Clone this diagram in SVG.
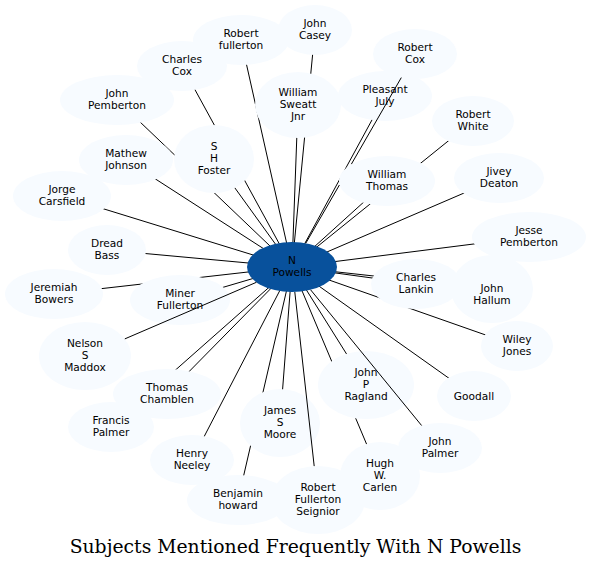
<svg xmlns="http://www.w3.org/2000/svg" width="592" height="569" viewBox="0 0 592 569">
<style>
.node ellipse{fill:#f7fbff;stroke:none}
#n_center ellipse{fill:#08519c}
text{font-family:"DejaVu Sans",Verdana,sans-serif;font-size:10.6px;text-anchor:middle;fill:#000}
.edges path{stroke:#000;stroke-width:1;fill:none}
.title{font-family:"DejaVu Serif",serif;font-size:18.8px}
</style>
<rect width="592" height="569" fill="#fff"/>
<g id="connectors" class="edges">
<path d="M292,267L315,30"/>
<path d="M292,267L241,40"/>
<path d="M292,267L182,66"/>
<path d="M292,267L117,100"/>
<path d="M292,267L298,105"/>
<path d="M292,267L385,96"/>
<path d="M292,267L473,121"/>
<path d="M292,267L214,159"/>
<path d="M292,267L126,160"/>
<path d="M292,267L62,196"/>
<path d="M292,267L387,181"/>
<path d="M292,267L499,178"/>
<path d="M292,267L529,237"/>
<path d="M292,267L107,250"/>
<path d="M292,267L54,294"/>
<path d="M292,267L180,300"/>
<path d="M292,267L416,284"/>
<path d="M292,267L492,289"/>
<path d="M292,267L517,346"/>
<path d="M292,267L167,394"/>
<path d="M292,267L111,427"/>
<path d="M292,267L280,423"/>
<path d="M292,267L366,385"/>
<path d="M292,267L474,396"/>
<path d="M292,267L192,460"/>
<path d="M292,267L380,476"/>
<path d="M292,267L238,500"/>
</g>
<g id="nodes">
<g id="n_casey" class="node"><ellipse cx="315" cy="30" rx="37" ry="25"/><text x="315" y="27">John</text><text x="315" y="39">Casey</text></g>
<g id="n_rfullerton" class="node"><ellipse cx="241" cy="40" rx="48" ry="25"/><text x="241" y="37">Robert</text><text x="241" y="49">fullerton</text></g>
<g id="n_ccox" class="node"><ellipse cx="182" cy="66" rx="45" ry="25"/><text x="182" y="63">Charles</text><text x="182" y="75">Cox</text></g>
<g id="n_jpemberton" class="node"><ellipse cx="117" cy="100" rx="57" ry="25"/><text x="117" y="97">John</text><text x="117" y="109">Pemberton</text></g>
<g id="n_sweatt" class="node"><ellipse cx="298" cy="105" rx="43" ry="33"/><text x="298" y="96">William</text><text x="298" y="108">Sweatt</text><text x="298" y="120">Jnr</text></g>
<g id="n_pjuly" class="node"><ellipse cx="385" cy="96" rx="47" ry="25"/><text x="385" y="93">Pleasant</text><text x="385" y="105">July</text></g>
<g id="n_rcox" class="node"><ellipse cx="415" cy="54" rx="42" ry="25"/><text x="415" y="51">Robert</text><text x="415" y="63">Cox</text></g>
<g id="n_rwhite" class="node"><ellipse cx="473" cy="121" rx="41" ry="25"/><text x="473" y="118">Robert</text><text x="473" y="130">White</text></g>
<g id="n_foster" class="node"><ellipse cx="214" cy="159" rx="40" ry="34"/><text x="214" y="150">S</text><text x="214" y="162">H</text><text x="214" y="174">Foster</text></g>
<g id="n_mathew" class="node"><ellipse cx="126" cy="160" rx="47" ry="25"/><text x="126" y="157">Mathew</text><text x="126" y="169">Johnson</text></g>
<g id="n_jorge" class="node"><ellipse cx="62" cy="196" rx="49" ry="25"/><text x="62" y="193">Jorge</text><text x="62" y="205">Carsfield</text></g>
<g id="n_wthomas" class="node"><ellipse cx="387" cy="181" rx="48" ry="25"/><text x="387" y="178">William</text><text x="387" y="190">Thomas</text></g>
<g id="n_jivey" class="node"><ellipse cx="499" cy="178" rx="45" ry="25"/><text x="499" y="175">Jivey</text><text x="499" y="187">Deaton</text></g>
<g id="n_jesse" class="node"><ellipse cx="529" cy="237" rx="57" ry="25"/><text x="529" y="234">Jesse</text><text x="529" y="246">Pemberton</text></g>
<g id="n_dread" class="node"><ellipse cx="107" cy="250" rx="39" ry="25"/><text x="107" y="247">Dread</text><text x="107" y="259">Bass</text></g>
<g id="n_jeremiah" class="node"><ellipse cx="54" cy="294" rx="49" ry="25"/><text x="54" y="291">Jeremiah</text><text x="54" y="303">Bowers</text></g>
<g id="n_miner" class="node"><ellipse cx="180" cy="300" rx="50" ry="25"/><text x="180" y="297">Miner</text><text x="180" y="309">Fullerton</text></g>
<g id="n_lankin" class="node"><ellipse cx="416" cy="284" rx="45" ry="25"/><text x="416" y="281">Charles</text><text x="416" y="293">Lankin</text></g>
<g id="n_hallum" class="node"><ellipse cx="492" cy="289" rx="41" ry="34"/><text x="492" y="292">John</text><text x="492" y="304">Hallum</text></g>
<g id="n_wiley" class="node"><ellipse cx="517" cy="346" rx="36" ry="25"/><text x="517" y="343">Wiley</text><text x="517" y="355">Jones</text></g>
<g id="n_nelson" class="node"><ellipse cx="85" cy="356" rx="46" ry="34"/><text x="85" y="347">Nelson</text><text x="85" y="359">S</text><text x="85" y="371">Maddox</text></g>
<g id="n_chamblen" class="node"><ellipse cx="167" cy="394" rx="54" ry="25"/><text x="167" y="391">Thomas</text><text x="167" y="403">Chamblen</text></g>
<g id="n_francis" class="node"><ellipse cx="111" cy="427" rx="43" ry="25"/><text x="111" y="424">Francis</text><text x="111" y="436">Palmer</text></g>
<g id="n_moore" class="node"><ellipse cx="280" cy="423" rx="40" ry="34"/><text x="280" y="414">James</text><text x="280" y="426">S</text><text x="280" y="438">Moore</text></g>
<g id="n_ragland" class="node"><ellipse cx="366" cy="385" rx="48" ry="34"/><text x="366" y="376">John</text><text x="366" y="388">P</text><text x="366" y="400">Ragland</text></g>
<g id="n_goodall" class="node"><ellipse cx="474" cy="396" rx="37" ry="25"/><text x="474" y="399.5">Goodall</text></g>
<g id="n_jpalmer" class="node"><ellipse cx="440" cy="448" rx="42" ry="25"/><text x="440" y="445">John</text><text x="440" y="457">Palmer</text></g>
<g id="n_henry" class="node"><ellipse cx="192" cy="460" rx="42" ry="25"/><text x="192" y="457">Henry</text><text x="192" y="469">Neeley</text></g>
<g id="n_hugh" class="node"><ellipse cx="380" cy="476" rx="40" ry="34"/><text x="380" y="467">Hugh</text><text x="380" y="479">W.</text><text x="380" y="491">Carlen</text></g>
<g id="n_benjamin" class="node"><ellipse cx="238" cy="500" rx="51" ry="25"/><text x="238" y="497">Benjamin</text><text x="238" y="509">howard</text></g>
<g id="n_rfs" class="node"><ellipse cx="318" cy="500" rx="47" ry="34"/><text x="318" y="491">Robert</text><text x="318" y="503">Fullerton</text><text x="318" y="515">Seignior</text></g>
<g id="n_center" class="node"><ellipse cx="292" cy="267" rx="45" ry="25"/><text x="292" y="264">N</text><text x="292" y="276">Powells</text></g>
</g>
<g id="connectors-over" class="edges">
<path d="M305.8,243.2L339.4,185M351.4,164.1L401.3,77.6"/>
<path d="M256.4,282.3L124.8,338.9"/>
<path d="M310.6,289.8L421.6,425.5"/>
<path d="M294.8,292L314.2,466.1"/>
</g>
<text class="title" x="295.5" y="553">Subjects Mentioned Frequently With N Powells</text>
</svg>
